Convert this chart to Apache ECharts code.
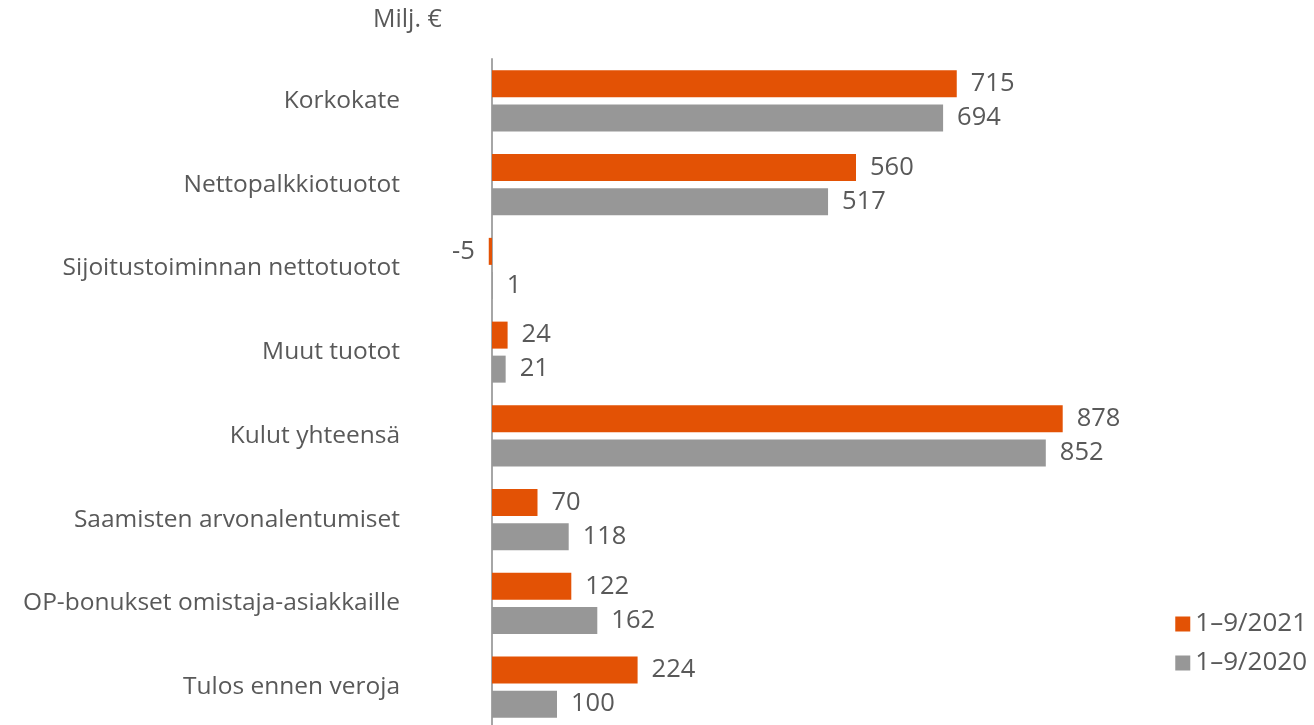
<!DOCTYPE html>
<html>
<head>
<meta charset="utf-8">
<script src="https://cdn.jsdelivr.net/npm/echarts@6/dist/echarts.min.js"></script>
<style>
  html, body { margin: 0; padding: 0; background: #fff; }
  #main { width: 1314px; height: 725px; }
</style>
</head>
<body>
<div id="main"></div>
<script>
// kategoriat ylhäältä alas
var categories = [
  "Korkokate",
  "Nettopalkkiotuotot",
  "Sijoitustoiminnan nettotuotot",
  "Muut tuotot",
  "Kulut yhteensä",
  "Saamisten arvonalentumiset",
  "OP-bonukset omistaja-asiakkaille",
  "Tulos ennen veroja"
];
var seriesNames = ["1–9/2021", "1–9/2020"];
var values2021 = [715, 560, -5, 24, 878, 70, 122, 224];
var values2020 = [694, 517, 1, 21, 852, 118, 162, 100];

var FONT = "Open Sans";
var textColor = "#595959";

function withLabels(arr) {
  // negatiivinen arvo: nimiö palkin vasemmalle puolelle
  return arr.map(function (v) {
    return v < 0 ? { value: v, label: { position: "left" } } : v;
  });
}

var chart = echarts.init(document.getElementById("main"));
chart.setOption({
  animation: false,
  textStyle: { fontFamily: FONT },
  graphic: [{
    type: "text",
    left: 373,
    top: 7,
    style: { text: "Milj. €", fontSize: 25, fill: textColor, fontFamily: FONT }
  }],
  legend: {
    orient: "vertical",
    right: 2,
    top: 606,
    itemWidth: 15,
    itemHeight: 15,
    itemGap: 13,
    icon: "rect",
    textStyle: { fontSize: 26, color: textColor, fontFamily: FONT },
    data: seriesNames
  },
  grid: { left: 427, width: 780, top: 59, height: 670, outerBoundsMode: "none", containLabel: false },
  xAxis: {
    type: "value",
    min: -100,
    max: 1100,
    show: false
  },
  yAxis: {
    type: "category",
    inverse: true,
    data: categories,
    axisTick: { show: false },
    axisLine: { onZero: true, lineStyle: { color: "#a6a6a6", width: 2 } },
    axisLabel: { fontSize: 24.5, color: textColor, margin: 27, fontFamily: FONT }
  },
  series: [
    {
      name: seriesNames[0],
      type: "bar",
      barWidth: 27,
      barGap: "26%",
      itemStyle: { color: "#e35205" },
      label: { show: true, position: "right", distance: 14, fontSize: 25.5, color: textColor, fontFamily: FONT },
      data: withLabels(values2021)
    },
    {
      name: seriesNames[1],
      type: "bar",
      barWidth: 27,
      barGap: "26%",
      itemStyle: { color: "#979797" },
      label: { show: true, position: "right", distance: 14, fontSize: 25.5, color: textColor, fontFamily: FONT },
      data: withLabels(values2020)
    }
  ]
});
</script>
</body>
</html>
